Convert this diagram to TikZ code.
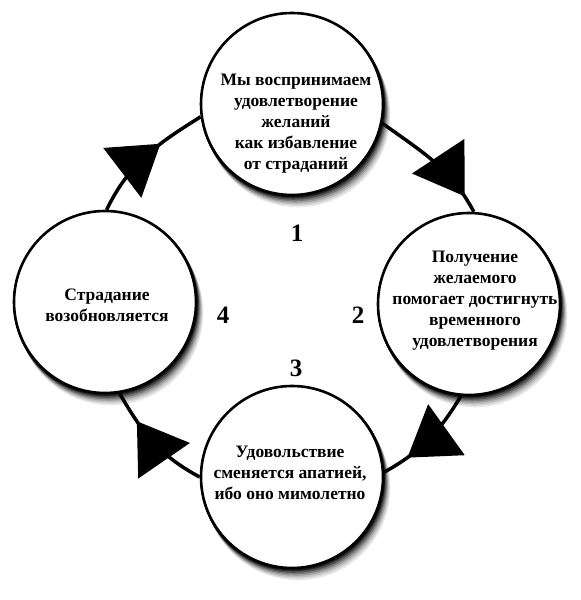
\documentclass[tikz,border=0pt]{standalone}
\usepackage{fontspec}
\setmainfont{Liberation Serif}
\usetikzlibrary{arrows.meta, positioning, calc, decorations.markings}

\begin{document}
\begin{tikzpicture}[
    x=1pt, y=1pt,
    stage/.style={circle, draw=black, line width=2.6pt, fill=white, minimum size=182pt, inner sep=0pt},
    caption/.style={align=center, font=\bfseries\fontsize{17.5}{21}\selectfont},
    stagenum/.style={font=\bfseries\fontsize{25}{30}\selectfont},
    cycle/.style={line width=3.5pt},
    tipmark/.style={postaction={decorate, decoration={markings,
                    mark=at position #1 with {\arrow{Triangle[length=48pt, width=62pt]}}}}}
]
    \useasboundingbox (0,0) rectangle (581,600);

    \coordinate (c1) at (292,496);
    \coordinate (c2) at (469,296);
    \coordinate (c3) at (292,123);
    \coordinate (c4) at (105,298);

    % Soft shadows
    \foreach \c in {c1,c2,c3,c4}
        \foreach \k/\g in {11/8, 9.5/16, 8/26, 6.5/38, 5/52, 3.5/68, 2/82, 1/92}
            \fill[black!\g] ([xshift=0.55*\k pt, yshift=-\k pt]\c) circle (92.3pt);

    % Stages of the cycle
    \node[stage] (s1) at (c1) {};
    \node[stage] (s2) at (c2) {};
    \node[stage] (s3) at (c3) {};
    \node[stage] (s4) at (c4) {};

    \node[caption] (t1) at ([xshift=4pt, yshift=-20pt]s1.center) {Мы воспринимаем\\удовлетворение\\желаний\\как избавление\\от страданий};
    \node[caption] (t2) at ([xshift=6pt, yshift=3pt]s2.center) {Получение\\желаемого\\помогает достигнуть\\временного\\удовлетворения};
    \node[caption] (t3) at ([xshift=-2pt, yshift=4pt]s3.center) {Удовольствие\\сменяется апатией,\\ибо оно мимолетно};
    \node[caption] (t4) at ([xshift=2pt, yshift=-3pt]s4.center) {Страдание\\возобновляется};

    % Step numbers
    \node[stagenum] (n1) at (297,367) {1};
    \node[stagenum] (n2) at (358,285) {2};
    \node[stagenum] (n3) at (296,232) {3};
    \node[stagenum] (n4) at (223,285) {4};

    % Cycle arcs
    \draw[cycle, tipmark=0.86] (s1.-12) to[out=-36, in=118] (s2.87);
    \draw[cycle, tipmark=0.75] (s2.-95) to[out=-121, in=29] (s3.3);
    \draw[cycle, tipmark=0.72] (s3.180) to[out=152, in=-60] (s4.-81);
    \draw[cycle, tipmark=0.64] (s4.89) to[out=64, in=-148] (s1.188);
\end{tikzpicture}
\end{document}
